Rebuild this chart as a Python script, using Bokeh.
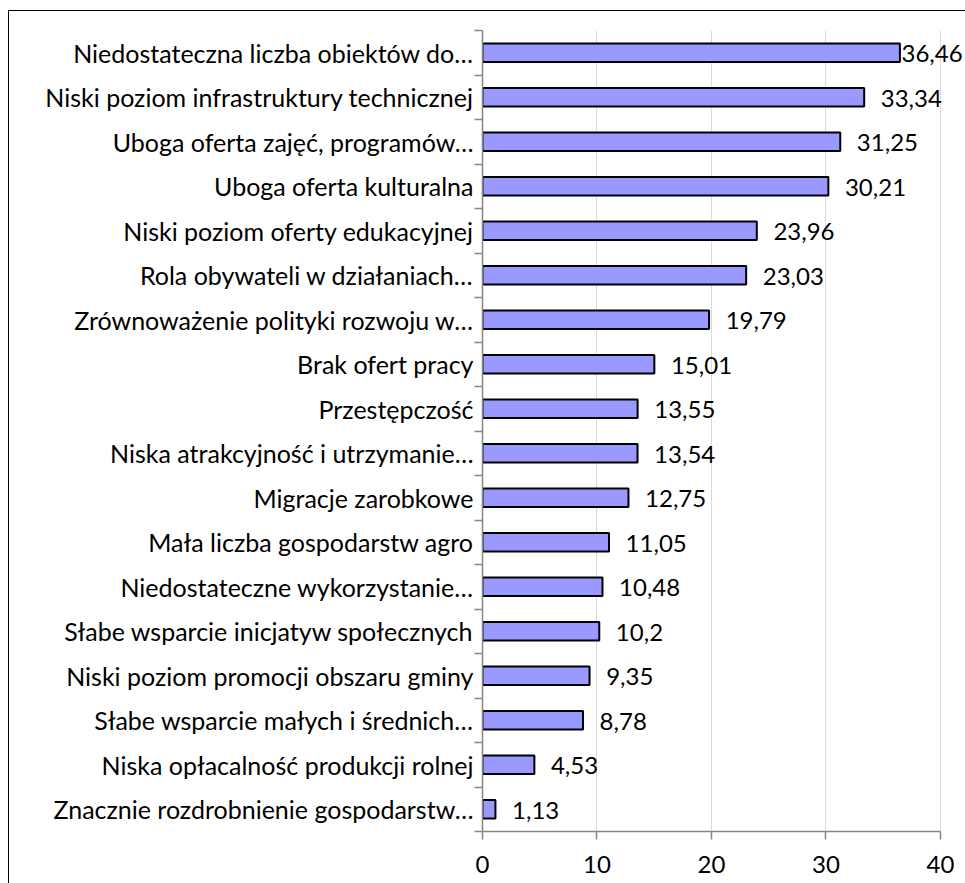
from bokeh.plotting import figure
from bokeh.models import Range1d, FixedTicker, ColumnDataSource, LabelSet
from bokeh.core.properties import value
from bokeh.embed import file_html
from bokeh.resources import INLINE

categories = [
    "Niedostateczna liczba obiektów do…",
    "Niski poziom infrastruktury technicznej",
    "Uboga oferta zajęć, programów…",
    "Uboga oferta kulturalna",
    "Niski poziom oferty edukacyjnej",
    "Rola obywateli w działaniach…",
    "Zrównoważenie polityki rozwoju w…",
    "Brak ofert pracy",
    "Przestępczość",
    "Niska atrakcyjność i utrzymanie…",
    "Migracje zarobkowe",
    "Mała liczba gospodarstw agro",
    "Niedostateczne wykorzystanie…",
    "Słabe wsparcie inicjatyw społecznych",
    "Niski poziom promocji obszaru gminy",
    "Słabe wsparcie małych i średnich…",
    "Niska opłacalność produkcji rolnej",
    "Znacznie rozdrobnienie gospodarstw…",
]
values = [36.46, 33.34, 31.25, 30.21, 23.96, 23.03, 19.79, 15.01, 13.55,
          13.54, 12.75, 11.05, 10.48, 10.2, 9.35, 8.78, 4.53, 1.13]
x_ticks = [0, 10, 20, 30, 40]

n = len(categories)
ypos = [n - i for i in range(n)]
label_x = [min(v + 1.45, 36.6) for v in values]
label_txt = [str(v).replace(".", ",") for v in values]

src = ColumnDataSource(dict(y=ypos, v=values, lx=label_x, t=label_txt))

FONT = "Lato"
FS = "24px"
AXIS_MAX = 40

# the frame runs a little past 40 so the outermost value label is not clipped;
# the axis and grid stop at 40
p = figure(width=965, height=883, output_backend="svg", toolbar_location=None,
           x_range=Range1d(0, 42.19), y_range=Range1d(0.5, n + 0.5),
           min_border_left=482, min_border_right=0, min_border_top=30,
           min_border_bottom=52)
p.outline_line_color = None
p.border_fill_color = None
p.background_fill_color = None
# chart-area border: only its left and top edges fall inside the picture
p.styles = {"background-color": "white",
            "box-shadow": "inset 8px 10px 0 0 white, inset 9px 11px 0 0 black"}

p.hbar(y="y", right="v", left=0, height=0.42, source=src,
       fill_color="#9999FF", line_color="black", line_width=2)

labels = LabelSet(x="lx", y="y", text="t", source=src, text_align="left",
                  text_baseline="middle", text_font=value(FONT), text_font_size=FS,
                  text_color="black", y_offset=-1)
p.add_layout(labels)

# x axis
p.xaxis.ticker = FixedTicker(ticks=x_ticks)
p.xaxis.bounds = (0, AXIS_MAX)
p.xaxis.major_tick_out = 8
p.xaxis.major_tick_in = 0
p.xaxis.minor_tick_line_color = None
p.xaxis.axis_line_color = "#868686"
p.xaxis.axis_line_width = 1.5
p.xaxis.major_tick_line_color = "#868686"
p.xaxis.major_tick_line_width = 1.5
p.xaxis.major_label_text_font = FONT
p.xaxis.major_label_text_font_size = FS
p.xaxis.major_label_text_color = "black"
p.xaxis.major_label_standoff = 16

# y axis
p.yaxis.ticker = FixedTicker(ticks=ypos, minor_ticks=[k + 0.5 for k in range(n + 1)])
p.yaxis.major_label_overrides = {y: c for y, c in zip(ypos, categories)}
p.yaxis.major_tick_out = 0
p.yaxis.major_tick_in = 0
p.yaxis.minor_tick_out = 8
p.yaxis.minor_tick_in = 0
p.yaxis.minor_tick_line_color = "#868686"
p.yaxis.minor_tick_line_width = 1.5
p.yaxis.axis_line_color = "#868686"
p.yaxis.axis_line_width = 1.5
p.yaxis.major_label_text_font = FONT
p.yaxis.major_label_text_font_size = "25px"
p.yaxis.major_label_text_color = "black"
p.yaxis.major_label_standoff = 1

p.xgrid.ticker = FixedTicker(ticks=x_ticks)
p.xgrid.bounds = (0, AXIS_MAX)
p.xgrid.grid_line_color = "#D9D9D9"
p.xgrid.grid_line_width = 1
p.ygrid.visible = False

open("out.html", "w").write(file_html(p, INLINE))
